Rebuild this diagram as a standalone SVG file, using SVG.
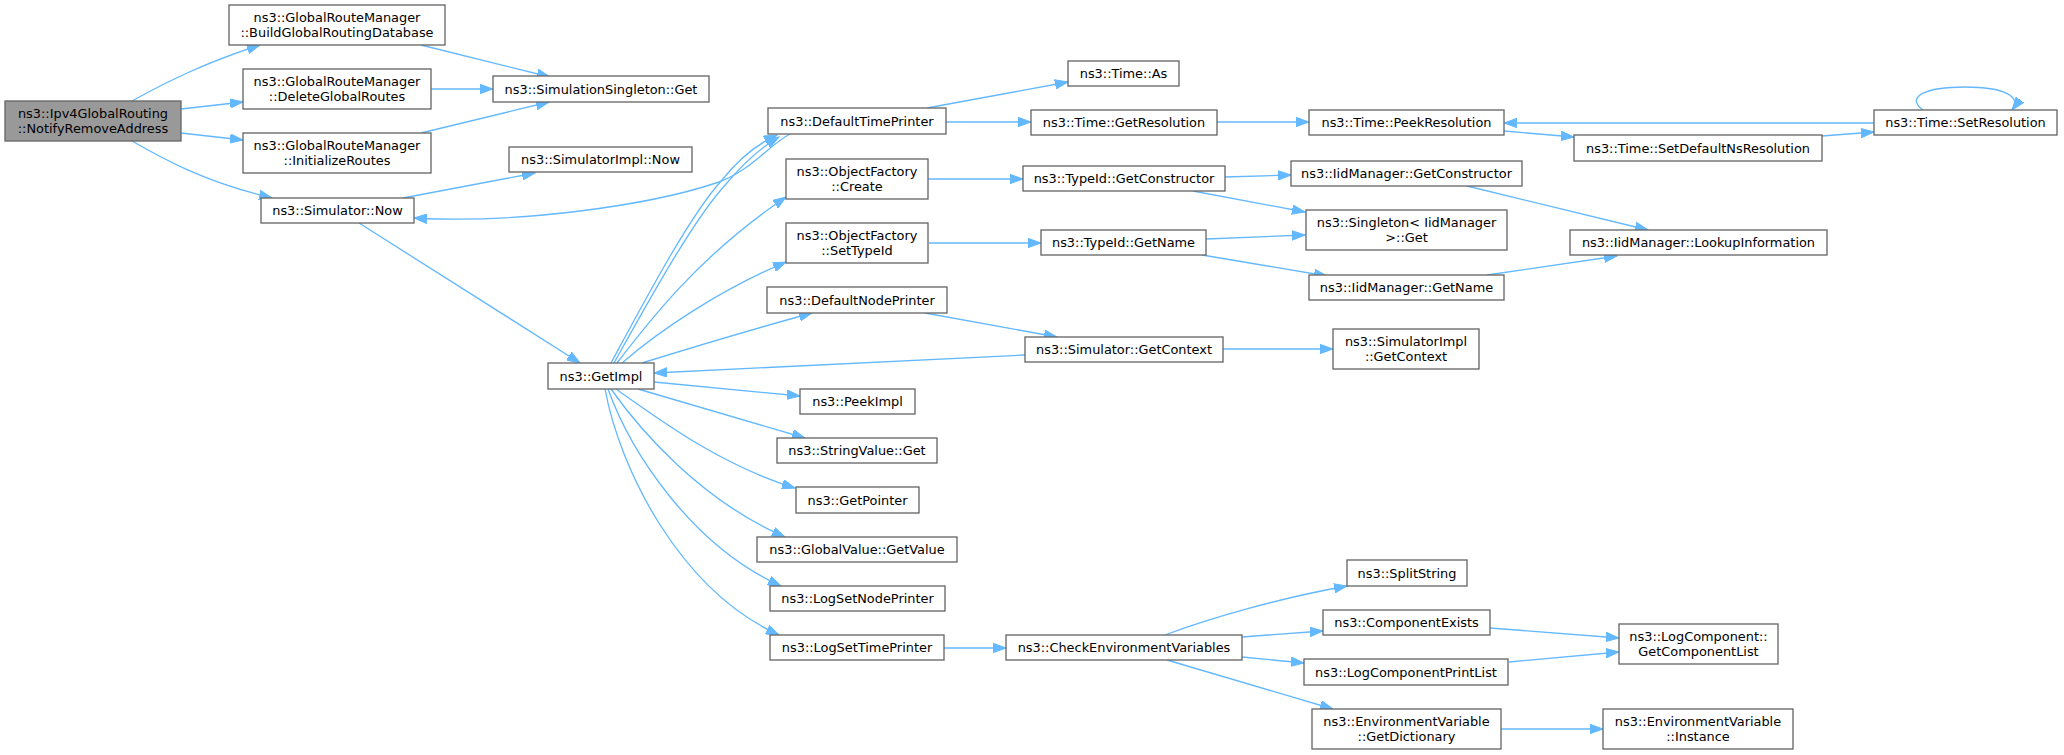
<svg xmlns="http://www.w3.org/2000/svg" width="2064" height="755" viewBox="0 0 2064 755">
<defs>
<style>
.n rect{fill:#ffffff;stroke:#666666;stroke-width:1.33}
.root rect{fill:#999999;stroke:#666666;stroke-width:1.33}
text{font-family:"DejaVu Sans","Liberation Sans",sans-serif;font-size:12.9px;text-anchor:middle;fill:#000000}
#edges path{fill:none;stroke:#63b8ff;stroke-width:1.33;marker-end:url(#arr)}
</style>
<marker id="arr" markerUnits="userSpaceOnUse" markerWidth="14" markerHeight="10" refX="13" refY="5" orient="auto">
<path d="M0,0.3 L13,5 L0,9.7 z" fill="#63b8ff" stroke="#63b8ff" stroke-width="1"/>
</marker>
</defs>
<rect width="2064" height="755" fill="#ffffff"/>
<g id="edges">
<path d="M132,101 C168,81 205,63 260,45"/>
<path d="M181,109 L243,102"/>
<path d="M181,133 L243,140"/>
<path d="M132,141 C165,160 205,182 272,198"/>
<path d="M421,45 L550,77"/>
<path d="M431,89 L493,89"/>
<path d="M421,133 L549,102"/>
<path d="M403,198 L535,173"/>
<path d="M359,223 L580,363"/>
<path d="M611,363 C645,300 690,215 722,180 C738,160 755,145 777,135"/>
<path d="M614,363 C648,302 693,220 726,184 C742,165 760,148 779,137"/>
<path d="M790,134 C770,144 750,172 716,183 C650,205 520,224 414,218"/>
<path d="M617,363 C650,320 700,255 786,197"/>
<path d="M622,363 C660,330 720,290 786,262"/>
<path d="M642,363 C690,348 750,330 812,313"/>
<path d="M1025,355 L654,373"/>
<path d="M654,382 L800,396"/>
<path d="M638,389 L805,438"/>
<path d="M616,389 C660,420 720,465 795,488"/>
<path d="M611,389 C640,430 700,500 785,537"/>
<path d="M608,389 C630,450 690,545 781,586"/>
<path d="M605,389 C620,470 680,590 779,635"/>
<path d="M927,108 L1068,82"/>
<path d="M946,122 L1031,122"/>
<path d="M928,179 L1023,179"/>
<path d="M929,243 L1041,243"/>
<path d="M925,313 L1057,337"/>
<path d="M1217,122 L1309,122"/>
<path d="M1504,131 L1574,137"/>
<path d="M1822,136 L1874,132"/>
<path d="M1874,123 L1504,123"/>
<path d="M1923,110 C1905,97 1925,87 1965,87 C2005,87 2022,97 2012,110"/>
<path d="M1225,177 L1291,175"/>
<path d="M1193,191 L1305,212"/>
<path d="M1206,239 L1305,235"/>
<path d="M1202,255 L1327,276"/>
<path d="M1467,186 L1648,230"/>
<path d="M1487,275 L1617,256"/>
<path d="M1223,349 L1333,349"/>
<path d="M944,648 L1006,648"/>
<path d="M1165,635 C1210,618 1280,598 1347,586"/>
<path d="M1242,637 L1323,631"/>
<path d="M1242,657 L1304,663"/>
<path d="M1167,660 L1333,709"/>
<path d="M1490,628 L1619,638"/>
<path d="M1509,662 L1619,652"/>
<path d="M1501,729 L1603,729"/>
</g>
<g id="n_root" class="root"><rect x="5" y="101" width="176" height="40"/><text x="93" y="117.5">ns3::Ipv4GlobalRouting</text><text x="93" y="132.5">::NotifyRemoveAddress</text></g>
<g id="n_build" class="n"><rect x="229" y="5" width="216" height="40"/><text x="337" y="21.5">ns3::GlobalRouteManager</text><text x="337" y="36.5">::BuildGlobalRoutingDatabase</text></g>
<g id="n_delete" class="n"><rect x="243" y="69" width="188" height="40"/><text x="337" y="85.5">ns3::GlobalRouteManager</text><text x="337" y="100.5">::DeleteGlobalRoutes</text></g>
<g id="n_init" class="n"><rect x="243" y="133" width="188" height="40"/><text x="337" y="149.5">ns3::GlobalRouteManager</text><text x="337" y="164.5">::InitializeRoutes</text></g>
<g id="n_simnow" class="n"><rect x="261" y="198" width="153" height="25"/><text x="337.5" y="215">ns3::Simulator::Now</text></g>
<g id="n_ssget" class="n"><rect x="493" y="76" width="216" height="26"/><text x="601" y="93.5">ns3::SimulationSingleton::Get</text></g>
<g id="n_simimplnow" class="n"><rect x="509" y="147" width="183" height="25"/><text x="600.5" y="164">ns3::SimulatorImpl::Now</text></g>
<g id="n_getimpl" class="n"><rect x="548" y="363" width="106" height="26"/><text x="601" y="380.5">ns3::GetImpl</text></g>
<g id="n_dtp" class="n"><rect x="768" y="108" width="178" height="26"/><text x="857" y="125.5">ns3::DefaultTimePrinter</text></g>
<g id="n_create" class="n"><rect x="786" y="159" width="142" height="40"/><text x="857" y="175.5">ns3::ObjectFactory</text><text x="857" y="190.5">::Create</text></g>
<g id="n_settypeid" class="n"><rect x="786" y="223" width="142" height="40"/><text x="857" y="239.5">ns3::ObjectFactory</text><text x="857" y="254.5">::SetTypeId</text></g>
<g id="n_dnp" class="n"><rect x="767" y="287" width="180" height="26"/><text x="857" y="304.5">ns3::DefaultNodePrinter</text></g>
<g id="n_peekimpl" class="n"><rect x="800" y="389" width="115" height="25"/><text x="857.5" y="406">ns3::PeekImpl</text></g>
<g id="n_strget" class="n"><rect x="777" y="438" width="160" height="25"/><text x="857" y="455">ns3::StringValue::Get</text></g>
<g id="n_getpointer" class="n"><rect x="796" y="487" width="123" height="26"/><text x="857.5" y="504.5">ns3::GetPointer</text></g>
<g id="n_gvget" class="n"><rect x="757" y="537" width="200" height="25"/><text x="857" y="554">ns3::GlobalValue::GetValue</text></g>
<g id="n_lsnp" class="n"><rect x="770" y="586" width="175" height="25"/><text x="857.5" y="603">ns3::LogSetNodePrinter</text></g>
<g id="n_lstp" class="n"><rect x="770" y="635" width="174" height="25"/><text x="857" y="652">ns3::LogSetTimePrinter</text></g>
<g id="n_timeas" class="n"><rect x="1068" y="61" width="111" height="25"/><text x="1123.5" y="78">ns3::Time::As</text></g>
<g id="n_getres" class="n"><rect x="1031" y="110" width="186" height="25"/><text x="1124" y="127">ns3::Time::GetResolution</text></g>
<g id="n_getcons" class="n"><rect x="1023" y="166" width="202" height="25"/><text x="1124" y="183">ns3::TypeId::GetConstructor</text></g>
<g id="n_getname" class="n"><rect x="1041" y="230" width="165" height="25"/><text x="1123.5" y="247">ns3::TypeId::GetName</text></g>
<g id="n_simgetctx" class="n"><rect x="1025" y="337" width="198" height="25"/><text x="1124" y="354">ns3::Simulator::GetContext</text></g>
<g id="n_cev" class="n"><rect x="1006" y="635" width="236" height="25"/><text x="1124" y="652">ns3::CheckEnvironmentVariables</text></g>
<g id="n_peekres" class="n"><rect x="1309" y="110" width="195" height="25"/><text x="1406.5" y="127">ns3::Time::PeekResolution</text></g>
<g id="n_iidgetcons" class="n"><rect x="1291" y="161" width="231" height="25"/><text x="1406.5" y="178">ns3::IidManager::GetConstructor</text></g>
<g id="n_singleton" class="n"><rect x="1306" y="210" width="201" height="40"/><text x="1406.5" y="226.5">ns3::Singleton&lt; IidManager</text><text x="1406.5" y="241.5">&gt;::Get</text></g>
<g id="n_iidgetname" class="n"><rect x="1309" y="275" width="195" height="25"/><text x="1406.5" y="292">ns3::IidManager::GetName</text></g>
<g id="n_simimplctx" class="n"><rect x="1333" y="329" width="146" height="40"/><text x="1406" y="345.5">ns3::SimulatorImpl</text><text x="1406" y="360.5">::GetContext</text></g>
<g id="n_split" class="n"><rect x="1347" y="560" width="120" height="26"/><text x="1407" y="577.5">ns3::SplitString</text></g>
<g id="n_compexists" class="n"><rect x="1323" y="610" width="167" height="25"/><text x="1406.5" y="627">ns3::ComponentExists</text></g>
<g id="n_lcpl" class="n"><rect x="1304" y="659" width="204" height="26"/><text x="1406" y="676.5">ns3::LogComponentPrintList</text></g>
<g id="n_getdict" class="n"><rect x="1312" y="709" width="189" height="40"/><text x="1406.5" y="725.5">ns3::EnvironmentVariable</text><text x="1406.5" y="740.5">::GetDictionary</text></g>
<g id="n_setdefns" class="n"><rect x="1574" y="135" width="248" height="26"/><text x="1698" y="152.5">ns3::Time::SetDefaultNsResolution</text></g>
<g id="n_lookup" class="n"><rect x="1570" y="230" width="257" height="25"/><text x="1698.5" y="247">ns3::IidManager::LookupInformation</text></g>
<g id="n_getcomplist" class="n"><rect x="1619" y="624" width="159" height="40"/><text x="1698.5" y="640.5">ns3::LogComponent::</text><text x="1698.5" y="655.5">GetComponentList</text></g>
<g id="n_instance" class="n"><rect x="1603" y="709" width="190" height="40"/><text x="1698" y="725.5">ns3::EnvironmentVariable</text><text x="1698" y="740.5">::Instance</text></g>
<g id="n_setres" class="n"><rect x="1874" y="110" width="183" height="25"/><text x="1965.5" y="127">ns3::Time::SetResolution</text></g>
</svg>
